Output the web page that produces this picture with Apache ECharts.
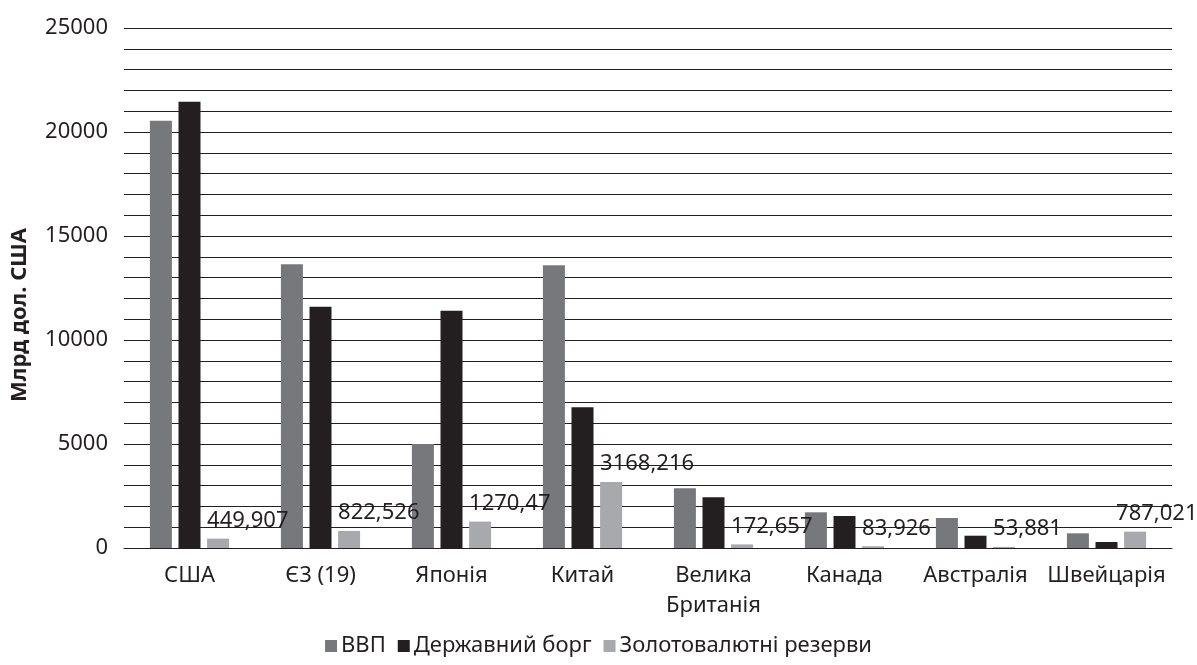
<!DOCTYPE html>
<html>
<head>
<meta charset="utf-8">
<script src="https://cdn.jsdelivr.net/npm/echarts@6/dist/echarts.min.js"></script>
<style>
  html, body { margin: 0; padding: 0; background: #fff; }
  #chart { width: 1197px; height: 665px; }
</style>
</head>
<body>
<div id="chart"></div>
<script>
// країни
const countries = ['США', 'Є3 (19)', 'Японія', 'Китай', 'Велика\nБританія', 'Канада', 'Австралія', 'Швейцарія'];
// млрд дол. США
const gdp = [20540, 13640, 5000, 13590, 2870, 1716, 1442, 705];
const debt = [21460, 11600, 11410, 6764, 2437, 1538, 591, 288];
const reserves = [449.907, 822.526, 1270.47, 3168.216, 172.657, 83.926, 53.881, 787.021];
const reserveLabels = ['449,907', '822,526', '1270,47', '3168,216', '172,657', '83,926', '53,881', '787,021'];

const colors = ['#77787b', '#231f20', '#a7a9ac'];
const font = '"Noto Sans", "Open Sans", sans-serif';

let myChart = echarts.init(document.getElementById('chart'));
myChart.setOption({
  color: colors,
  animation: false,
  textStyle: { fontFamily: font },
  grid: { left: 124, right: 25, top: 28, bottom: 117 },
  legend: {
    bottom: 3,
    left: 'center',
    itemWidth: 12,
    itemHeight: 12,
    itemGap: 12,
    icon: 'rect',
    textStyle: { fontSize: 22, color: '#231f20', fontFamily: font, padding: [0, 6, 0, -1] },
    data: ['ВВП', 'Державний борг', 'Золотовалютні резерви']
  },
  xAxis: {
    type: 'category',
    data: countries,
    axisTick: { show: false },
    axisLine: { lineStyle: { color: '#231f20', width: 1 } },
    axisLabel: { fontSize: 22, color: '#231f20', margin: 13, lineHeight: 30, interval: 0 }
  },
  yAxis: {
    type: 'value',
    min: 0,
    max: 25000,
    interval: 5000,
    name: 'Млрд дол. США',
    nameLocation: 'middle',
    nameGap: 93,
    nameTextStyle: { fontSize: 22, fontWeight: 'bold', color: '#231f20', padding: [0, 54, 0, 0] },
    axisLine: { show: false },
    axisTick: { show: false },
    axisLabel: { fontSize: 22, color: '#231f20', margin: 16, formatter: v => String(v) },
    splitLine: { lineStyle: { color: '#231f20', width: 1 } },
    minorTick: { show: false, splitNumber: 5 },
    minorSplitLine: { show: true, lineStyle: { color: '#231f20', width: 1 } }
  },
  series: [
    {
      name: 'ВВП',
      type: 'bar',
      barWidth: 22,
      barGap: '30%',
      data: gdp
    },
    {
      name: 'Державний борг',
      type: 'bar',
      barWidth: 22,
      barGap: '30%',
      data: debt
    },
    {
      name: 'Золотовалютні резерви',
      type: 'bar',
      barWidth: 22,
      barGap: '30%',
      // останню підпис трохи лівіше, щоб влізла
      data: reserves.map((v, i) => i === 7 ? { value: v, label: { offset: [-19, -2] } } : v),
      label: {
        show: true,
        position: 'top',
        align: 'left',
        offset: [-11, -2],
        fontSize: 22,
        color: '#231f20',
        formatter: p => reserveLabels[p.dataIndex]
      }
    }
  ]
});
</script>
</body>
</html>
